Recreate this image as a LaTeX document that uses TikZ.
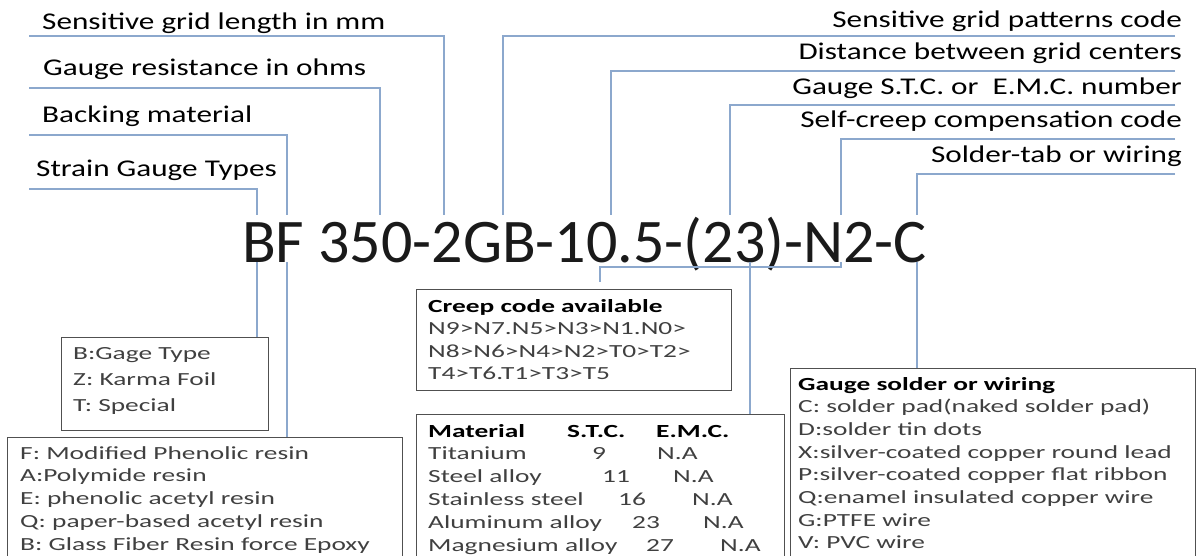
\documentclass[tikz,border=0pt]{standalone}
\usepackage{fontspec}
\setmainfont{Carlito}
\newfontfamily\lblfont[FakeStretch=1.3]{Carlito}
\newfontfamily\boxfont[FakeStretch=1.48]{Carlito}
\usetikzlibrary{calc}

\definecolor{leadblue}{RGB}{140,168,205}
\definecolor{boxline}{RGB}{80,80,80}
\definecolor{boxgray}{RGB}{64,64,64}
\definecolor{codeblack}{RGB}{26,26,26}

\tikzset{
  toplbl/.style={inner sep=0pt, font=\lblfont\fontsize{24pt}{28pt}\selectfont, text=black},
  boxtxt/.style={anchor=base west, inner sep=0pt, font=\boxfont\fontsize{18.5pt}{22pt}\selectfont, text=boxgray},
  boxhead/.style={boxtxt, font=\boxfont\bfseries\fontsize{18.5pt}{22pt}\selectfont, text=black},
  frm/.style={draw=boxline, line width=1.3pt, anchor=north west, inner sep=0pt},
  conn/.style={draw=leadblue, line width=1.5pt},
}

\begin{document}
\begin{tikzpicture}[x=1pt,y=-1pt]
  \useasboundingbox (0,0) rectangle (1198,556);
  \clip (0,0) rectangle (1198,556);

  % part number
  \node[anchor=base west, inner sep=0pt, text height=47pt, text depth=0pt,
        font=\fontsize{62pt}{70pt}\selectfont, text=codeblack] (code) at (242,262)
        {BF 350-2GB-10.5-(23)-N2-C};

  % tap points along the part number
  \foreach \n/\x in {tB/257, tF/287, tRes/380, tLen/444, tPat/503, tDist/611,
                     tStc/730, tMat/750, tCrp/841, tWire/917, tCbox/600}
    \coordinate (\n) at (\x,0);

  % labels, left side
  \node[toplbl, anchor=base west] (lenlbl) at (42,30) {Sensitive grid length in mm};
  \node[toplbl, anchor=base west] (reslbl) at (43,76) {Gauge resistance in ohms};
  \node[toplbl, anchor=base west] (baklbl) at (42,123) {Backing material};
  \node[toplbl, anchor=base west] (typlbl) at (36,177) {Strain Gauge Types};

  % labels, right side
  \node[toplbl, anchor=base east] (patlbl) at (1182,28) {Sensitive grid patterns code};
  \node[toplbl, anchor=base east] (dstlbl) at (1182,60) {Distance between grid centers};
  \node[toplbl, anchor=base east] (stclbl) at (1182,95) {Gauge S.T.C. or\ \ E.M.C. number};
  \node[toplbl, anchor=base east] (crplbl) at (1182,128) {Self-creep compensation code};
  \node[toplbl, anchor=base east] (wirlbl) at (1182,163) {Solder-tab or wiring};

  % leaders from labels down to the part number
  \draw[conn] ([shift={(-13,6)}]lenlbl.base west) -| (tLen |- code.north);
  \draw[conn] ([shift={(-14,12)}]reslbl.base west) -| (tRes |- code.north);
  \draw[conn] ([shift={(-13,12)}]baklbl.base west) -| (tF |- code.north);
  \draw[conn] ([shift={(-7,12)}]typlbl.base west) -| (tB |- code.north);
  \draw[conn] ([shift={(-7,8)}]patlbl.base east) -| (tPat |- code.north);
  \draw[conn] ([shift={(-7,11)}]dstlbl.base east) -| (tDist |- code.north);
  \draw[conn] ([shift={(-7,10)}]stclbl.base east) -| (tStc |- code.north);
  \draw[conn] ([shift={(-7,11)}]crplbl.base east) -| (tCrp |- code.north);
  \draw[conn] ([shift={(-7,11)}]wirlbl.base east) -| (tWire |- code.north);

  % boxes
  \node[frm, minimum width=207pt, minimum height=93pt] (typebox) at (61,337) {};
  \node[frm, minimum width=395pt, minimum height=140pt] (backbox) at (7,437) {};
  \node[frm, minimum width=315pt, minimum height=101pt] (creepbox) at (416,289) {};
  \node[frm, minimum width=368pt, minimum height=160pt] (matbox) at (416,414) {};
  \node[frm, minimum width=405pt, minimum height=200pt] (wirebox) at (790,368) {};

  % leaders from the part number down to the boxes
  \draw[conn] (tB |- code.south) -- (tB |- typebox.north);
  \draw[conn] (tF |- code.south) -- (tF |- backbox.north);
  \draw[conn] (tMat |- code.south) -- (tMat |- matbox.north);
  \draw[conn] (tWire |- code.south) -- (tWire |- wirebox.north);
  \draw[conn] (tCrp |- code.south) -- ++(0,5) -| ($(tCbox |- creepbox.north)+(0,-7)$);

  % gauge type
  \foreach \t [count=\i from 0] in {B:Gage Type, Z: Karma Foil, T: Special}
    \node[boxtxt] (typ\i) at (73,{359+26*\i}) {\t};

  % backing
  \foreach \t [count=\i from 0] in {F: Modified Phenolic resin, A:Polymide resin,
      E: phenolic acetyl resin, Q: paper-based acetyl resin, B: Glass Fiber Resin force Epoxy}
    \node[boxtxt] (bak\i) at (20,{459+22.8*\i}) {\t};

  % creep codes
  \node[boxhead] (crphead) at (428,312) {Creep code available};
  \foreach \t [count=\i] in {N9>N7.N5>N3>N1.N0>, N8>N6>N4>N2>T0>T2>, T4>T6.T1>T3>T5}
    \node[boxtxt] (crp\i) at (428,{312+22.6*\i}) {\t};

  % materials
  \node[boxhead] (mathead) at (428,437) {Material};
  \node[boxhead] (stchead) at (567,437) {S.T.C.};
  \node[boxhead] (emchead) at (656,437) {E.M.C.};
  \foreach \m/\v/\vx/\nx [count=\i] in {Titanium/9/592/657, Steel alloy/11/602/673,
      Stainless steel/16/618/692, Aluminum alloy/23/632/703, Magnesium alloy/27/646/720} {
    \node[boxtxt] (mat\i) at (428,{437+22.8*\i}) {\m};
    \node[boxtxt] (stc\i) at (\vx,{437+22.8*\i}) {\v};
    \node[boxtxt] (emc\i) at (\nx,{437+22.8*\i}) {N.A};
  }

  % solder / wiring
  \node[boxhead] (wirhead) at (798,390) {Gauge solder or wiring};
  \foreach \t [count=\i] in {C: solder pad(naked solder pad), D:solder tin dots,
      X:silver-coated copper round lead, P:silver-coated copper flat ribbon,
      Q:enamel insulated copper wire, G:PTFE wire, V: PVC wire}
    \node[boxtxt] (wir\i) at (798,{390+22.7*\i}) {\t};
\end{tikzpicture}
\end{document}
